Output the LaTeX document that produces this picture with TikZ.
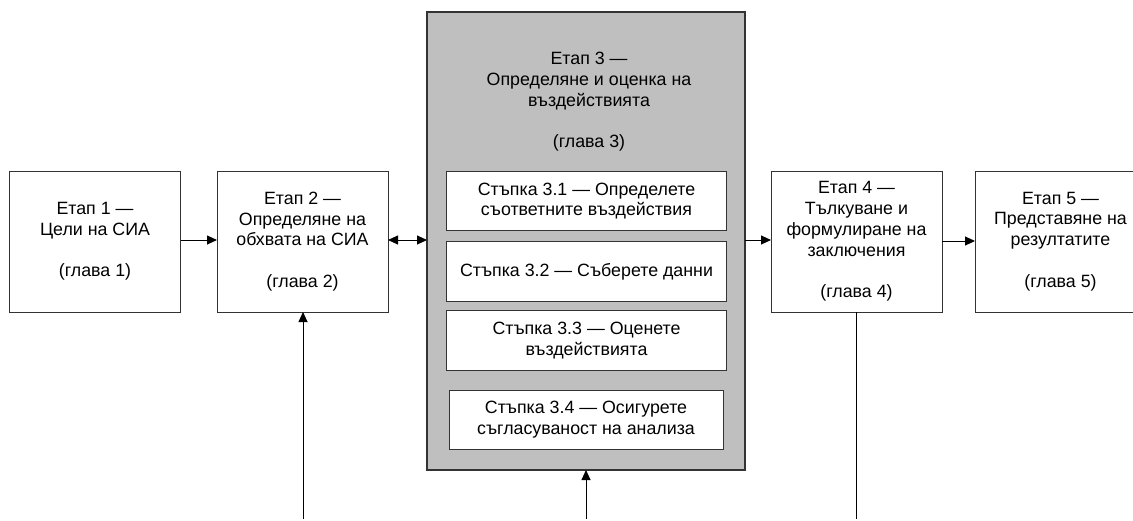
\documentclass[tikz,border=0pt]{standalone}
\usepackage{fontspec}
\setmainfont{Liberation Sans}
\usetikzlibrary{arrows.meta}
\begin{document}
\begin{tikzpicture}[x=1pt,y=-1pt,
  every node/.style={inner sep=0pt,outer sep=0pt,align=center,
    font=\fontsize{17.8}{20.8}\selectfont},
  stage/.style={draw=black!80,line width=1pt,fill=white,
    minimum width=171pt,minimum height=141pt},
  stagegroup/.style={draw=black!80,line width=1.3pt,fill=black!25,
    minimum width=318pt,minimum height=458pt},
  substep/.style={draw=black!80,line width=1pt,fill=white,
    minimum height=59.5pt},
  flow/.style={line width=0.9pt,-{Triangle[length=10pt,width=9pt]}},
  biflow/.style={line width=0.9pt,{Triangle[length=10pt,width=9pt]}-{Triangle[length=10pt,width=9pt]}},
  plain/.style={line width=0.9pt}]
\useasboundingbox (0,0) rectangle (1133,520);
\clip (0,0) rectangle (1133,520);

% main stages
\node[stage] (s1) at (95,241.5) {Етап 1 —\\Цели на СИА\\[20.8pt](глава 1)};
\node[stage] (s2) at (302.5,241.5) {Етап 2 —\\Определяне на\\обхвата на СИА\\[20.8pt](глава 2)};
\node[stagegroup] (s3) at (586,241) {};
\node (s3title) at (589,102) {Етап 3 —\\Определяне и оценка на\\въздействията\\[20.8pt](глава 3)};
\node[stage] (s4) at (856.5,241.5) {Етап 4 —\\Тълкуване и\\формулиране на\\заключения\\[20.8pt](глава 4)};
\node[stage] (s5) at (1060.5,241.5) {Етап 5 —\\Представяне на\\резултатите\\[20.8pt](глава 5)};

% steps inside stage 3
\node[substep,minimum width=280pt] (st1) at (586.5,201) {Стъпка 3.1 — Определете\\съответните въздействия};
\node[substep,minimum width=280pt] (st2) at (586.5,271.5) {Стъпка 3.2 — Съберете данни};
\node[substep,minimum width=280pt] (st3) at (586.5,340.5) {Стъпка 3.3 — Оценете\\въздействията};
\node[substep,minimum width=274pt] (st4) at (586,420) {Стъпка 3.4 — Осигурете\\съгласуваност на анализа};

% loose ends at the bottom edge
\coordinate (in2) at (303,519);
\coordinate (in3) at (586,519);
\coordinate (out4) at (856,519);

% connectors
\draw[flow] (s1.east |- 0,240) -- (s2.west |- 0,240);
\draw[biflow] (s2.east |- 0,240) -- (s3.west |- 0,240);
\draw[flow] (s3.east |- 0,240) -- (s4.west |- 0,240);
\draw[flow] (s4.east |- 0,241) -- (s5.west |- 0,241);
\draw[flow] (in2) -- (in2 |- s2.south);
\draw[flow] (in3) -- (in3 |- s3.south);
\draw[plain] (out4 |- s4.south) -- (out4);
\end{tikzpicture}
\end{document}
